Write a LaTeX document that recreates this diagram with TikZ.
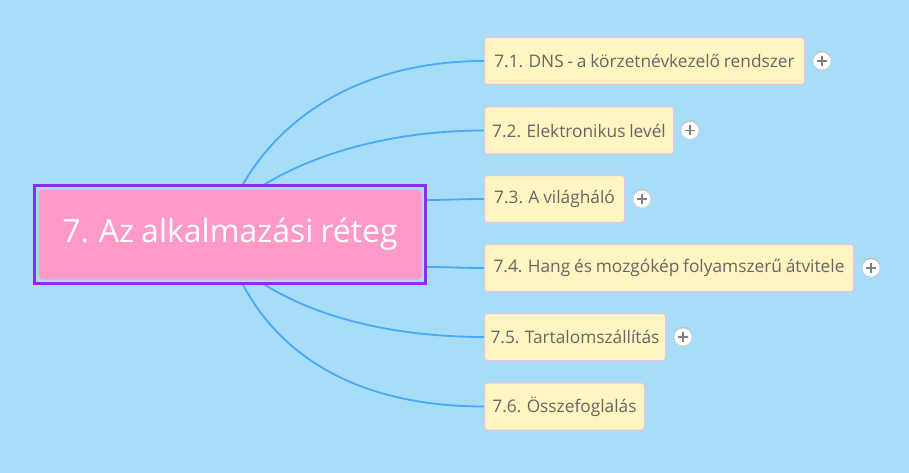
\documentclass[tikz,border=0pt]{standalone}
\usepackage{fontspec}
\setmainfont{Open Sans}[WordSpace=0.85]
\definecolor{bg}{HTML}{A8DDF7}
\definecolor{pinkc}{HTML}{FF99C7}
\definecolor{purp}{HTML}{8F2BF0}
\definecolor{boxy}{HTML}{FFF5C0}
\definecolor{boxb}{HTML}{F4BDE6}
\definecolor{linec}{HTML}{4AA8FF}
\definecolor{txt}{HTML}{666666}
\begin{document}
\begin{tikzpicture}[x=1pt,y=-1pt,
  child/.style={draw=boxb,fill=boxy,rounded corners=3pt,line width=1pt,inner sep=0pt,
     font=\fontsize{17.3}{20}\selectfont,text=txt,minimum height=47pt,anchor=west},
  conn/.style={draw=linec,line width=1.8pt},
  plusbtn/.style={circle,fill=white,draw=black!20,line width=0.6pt,minimum size=18pt,inner sep=0pt}]
\fill[bg] (0,0) rectangle (909,473);
\useasboundingbox (0,0) rectangle (909,473);
\coordinate (s1) at (242,186);
\coordinate (s2) at (262,186);
\coordinate (s3) at (424,200);
\coordinate (s4) at (424,267);
\coordinate (s5) at (262,283);
\coordinate (s6) at (242,283);
\coordinate (e1) at (484,61);
\coordinate (e2) at (484,130.5);
\coordinate (e3) at (484,199);
\coordinate (e4) at (484,268);
\coordinate (e5) at (484,337);
\coordinate (e6) at (484,406.5);
% connectors
\path[conn] (s1) .. controls (285,110) and (370,61) .. (e1);
\path[conn] (s2) .. controls (320,150) and (400,130.5) .. (e2);
\path[conn] (s3) .. controls (450,200) and (460,199) .. (e3);
\path[conn] (s4) .. controls (450,267) and (460,268) .. (e4);
\path[conn] (s5) .. controls (320,320) and (400,337) .. (e5);
\path[conn] (s6) .. controls (285,365) and (370,406.5) .. (e6);
% child boxes
\node[child,minimum width=320pt] (b1) at (e1) {7.1. DNS - a körzetnévkezelő rendszer};
\node[child,minimum width=189pt] (b2) at (e2) {7.2. Elektronikus levél};
\node[child,minimum width=140pt] (b3) at (e3) {7.3. A világháló};
\node[child,minimum width=369pt] (b4) at (e4) {7.4. Hang és mozgókép folyamszerű átvitele};
\node[child,minimum width=181pt] (b5) at (e5) {7.5. Tartalomszállítás};
\node[child,minimum width=160pt] (b6) at (e6) {7.6. Összefoglalás};
% central node
\node[draw=purp,line width=2.2pt,minimum width=391pt,minimum height=98pt,inner sep=0pt] (c) at (230,234.5) {};
\node[fill=pinkc,rounded corners=4pt,minimum width=383pt,minimum height=90pt,inner sep=0pt,
   text=white,font=\fontsize{32}{38}\selectfont] (ci) at (230,234.5) {7. Az alkalmazási réteg};
% plus buttons
\foreach \n/\x/\y in {p1/822/61,p2/690/130.5,p3/642/199,p4/871/268,p5/683/337}{
  \fill[black!25] ([yshift=1pt]\x,\y) circle (9.3pt);
  \node[plusbtn] (\n) at (\x,\y) {};
  \draw[black!50,line width=1.6pt] ([xshift=-5pt]\n.center) -- ([xshift=5pt]\n.center);
  \draw[black!50,line width=1.6pt] ([yshift=-5pt]\n.center) -- ([yshift=5pt]\n.center);
}
\end{tikzpicture}
\end{document}
